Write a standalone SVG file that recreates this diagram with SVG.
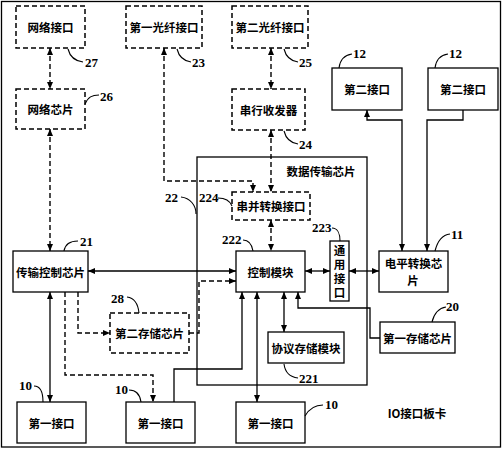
<svg xmlns="http://www.w3.org/2000/svg" width="503" height="450" viewBox="0 0 503 450">
<defs>
<marker id="a" viewBox="0 0 7 6" refX="7" refY="3" markerWidth="7" markerHeight="6" markerUnits="userSpaceOnUse" orient="auto-start-reverse">
<path d="M0,0 L7,3 L0,6 z" fill="#000"/>
</marker>
</defs>
<style>
.s{fill:#fff;stroke:#000;stroke-width:1.3}
.d{fill:#fff;stroke:#000;stroke-width:1.5;stroke-dasharray:5,3}
.c{fill:none;stroke:#000;stroke-width:1.3}
.cd{fill:none;stroke:#000;stroke-width:1.4;stroke-dasharray:5,3}
.l{fill:none;stroke:#000;stroke-width:1.1}
.t{font-family:"Noto Sans CJK SC","Noto Sans",sans-serif;font-size:11.5px;font-weight:bold;text-anchor:middle;dominant-baseline:central}
.v{font-family:"Noto Sans CJK SC","Noto Sans",sans-serif;font-size:11.5px;font-weight:bold;text-anchor:middle;writing-mode:vertical-rl;letter-spacing:2.5px}
.n{font-family:"Liberation Serif",serif;font-size:13px;font-weight:bold}
</style>
<rect x="0" y="0" width="503" height="450" fill="#fff"/>
<rect x="1.5" y="1.5" width="499" height="445.5" fill="none" stroke="#000" stroke-width="1.3"/>

<g id="connectors">
<path class="cd" d="M50,48 V89" marker-start="url(#a)" marker-end="url(#a)"/>
<path class="cd" d="M271,48 V89" marker-start="url(#a)" marker-end="url(#a)"/>
<path class="cd" d="M50,129 V251" marker-start="url(#a)" marker-end="url(#a)"/>
<path class="cd" d="M164,48 V181 H253 V192" marker-start="url(#a)" marker-end="url(#a)"/>
<path class="cd" d="M271,130 V192" marker-start="url(#a)" marker-end="url(#a)"/>
<path class="cd" d="M271,220 V251" marker-start="url(#a)" marker-end="url(#a)"/>
<path class="c" d="M88,271 H236" marker-start="url(#a)" marker-end="url(#a)"/>
<path class="c" d="M305,271 H330" marker-start="url(#a)" marker-end="url(#a)"/>
<path class="c" d="M349,271 H379" marker-start="url(#a)" marker-end="url(#a)"/>
<path class="c" d="M367,110 V120 H402 V251" marker-start="url(#a)" marker-end="url(#a)"/>
<path class="c" d="M463,110 V120 H427 V251" marker-end="url(#a)"/>
<path class="c" d="M50,292 V402" marker-start="url(#a)" marker-end="url(#a)"/>
<path class="cd" d="M78,292 V333 H110" marker-end="url(#a)"/>
<path class="cd" d="M65,292 V375 H153 V402" marker-end="url(#a)"/>
<path class="c" d="M174,402 V369 H242 V292" marker-end="url(#a)"/>
<path class="cd" d="M189,333 H199 V281 H236" marker-end="url(#a)"/>
<path class="c" d="M257,292 V402" marker-start="url(#a)" marker-end="url(#a)"/>
<path class="c" d="M284,292 V332" marker-start="url(#a)" marker-end="url(#a)"/>
<path class="c" d="M380,338 H370 V308 H298 V292" marker-end="url(#a)"/>
</g>

<g id="n22">
<rect x="197" y="157" width="170" height="228" fill="none" stroke="#000" stroke-width="1.3"/>
<text class="t" x="321" y="171">数据传输芯片</text>
<path class="l" d="M181,197 C190,198 196,205 196,214"/>
<text class="n" x="165" y="202">22</text>
</g>

<g id="n27">
<rect class="d" x="16" y="6" width="69" height="42"/>
<text class="t" x="50.5" y="27">网络接口</text>
<path class="l" d="M68,49 C70,57 75,61 83,62"/>
<text class="n" x="85" y="67">27</text>
</g>

<g id="n23">
<rect class="d" x="126" y="6" width="76" height="42"/>
<text class="t" x="164" y="27">第一光纤接口</text>
<path class="l" d="M177,49 C179,57 184,61 191,62"/>
<text class="n" x="192" y="67">23</text>
</g>

<g id="n25">
<rect class="d" x="232" y="6" width="76" height="42"/>
<text class="t" x="270" y="27">第二光纤接口</text>
<path class="l" d="M284,49 C286,57 291,61 298,62"/>
<text class="n" x="299" y="67">25</text>
</g>

<g id="n26">
<rect class="d" x="16" y="89" width="69" height="40"/>
<text class="t" x="50.5" y="109">网络芯片</text>
<path class="l" d="M85,104 C88,97 92,95 99,95"/>
<text class="n" x="100" y="101">26</text>
</g>

<g id="n24">
<rect class="d" x="232" y="89" width="73" height="41"/>
<text class="t" x="268.5" y="109.5">串行收发器</text>
<path class="l" d="M284,131 C286,139 291,143 298,144"/>
<text class="n" x="299" y="149">24</text>
</g>

<g id="n12a">
<rect class="s" x="332" y="68" width="70" height="42"/>
<text class="t" x="367" y="89">第二接口</text>
<path class="l" d="M339,68 C340,60 345,55 352,54"/>
<text class="n" x="353" y="58">12</text>
</g>

<g id="n12b">
<rect class="s" x="428" y="68" width="70" height="42"/>
<text class="t" x="463" y="89">第二接口</text>
<path class="l" d="M435,68 C436,60 441,55 448,54"/>
<text class="n" x="449" y="58">12</text>
</g>

<g id="n224">
<rect class="d" x="232" y="192" width="78" height="28"/>
<text class="t" x="271" y="206">串并转换接口</text>
<path class="l" d="M218,198 C226,198 230,201 232,206"/>
<text class="n" x="199" y="202">224</text>
</g>

<g id="n222">
<rect class="s" x="236" y="251" width="69" height="41"/>
<text class="t" x="270.5" y="271.5">控制模块</text>
<path class="l" d="M243,240 C249,240 252,245 253,251"/>
<text class="n" x="222" y="244">222</text>
</g>

<g id="n223">
<rect class="s" x="330" y="241" width="19" height="60"/>
<text class="v" x="339.5" y="272.5">通用接口</text>
<path class="l" d="M332,228 C337,228 340,233 340,241"/>
<text class="n" x="312" y="232">223</text>
</g>

<g id="n11">
<rect class="s" x="379" y="251" width="69" height="41"/>
<text class="t" x="413.5" y="263">电平转换芯</text>
<text class="t" x="413" y="280">片</text>
<path class="l" d="M435,251 C437,243 441,235 450,234"/>
<text class="n" x="451" y="239">11</text>
</g>

<g id="n21">
<rect class="s" x="13" y="251" width="75" height="41"/>
<text class="t" x="50.5" y="271.5">传输控制芯片</text>
<path class="l" d="M64,251 C65,245 70,241 78,241"/>
<text class="n" x="80" y="246">21</text>
</g>

<g id="n28">
<rect class="d" x="110" y="313" width="79" height="40"/>
<text class="t" x="149.5" y="333">第二存储芯片</text>
<path class="l" d="M127,297 C134,298 138,303 139,313"/>
<text class="n" x="111" y="303">28</text>
</g>

<g id="n221">
<rect class="s" x="268" y="332" width="76" height="31"/>
<text class="t" x="306" y="348">协议存储模块</text>
<path class="l" d="M284,364 C285,372 290,377 298,378"/>
<text class="n" x="299" y="383">221</text>
</g>

<g id="n20">
<rect class="s" x="380" y="322" width="75" height="31"/>
<text class="t" x="417.5" y="338">第一存储芯片</text>
<path class="l" d="M432,322 C434,314 439,308 446,307"/>
<text class="n" x="446" y="311">20</text>
</g>

<g id="n10a">
<rect class="s" x="17" y="402" width="69" height="41"/>
<text class="t" x="51.5" y="422.5">第一接口</text>
<path class="l" d="M34,386 C40,386 43,392 43,402"/>
<text class="n" x="19" y="390">10</text>
</g>

<g id="n10b">
<rect class="s" x="126" y="402" width="69" height="41"/>
<text class="t" x="160.5" y="422.5">第一接口</text>
<path class="l" d="M129,390 C136,390 140,395 141,402"/>
<text class="n" x="115" y="394">10</text>
</g>

<g id="n10c">
<rect class="s" x="236" y="402" width="69" height="41"/>
<text class="t" x="270.5" y="422.5">第一接口</text>
<path class="l" d="M305,416 C309,409 315,405 323,405"/>
<text class="n" x="325" y="409">10</text>
</g>

<g id="board">
<text class="t" x="417" y="413">IO接口板卡</text>
</g>
</svg>
